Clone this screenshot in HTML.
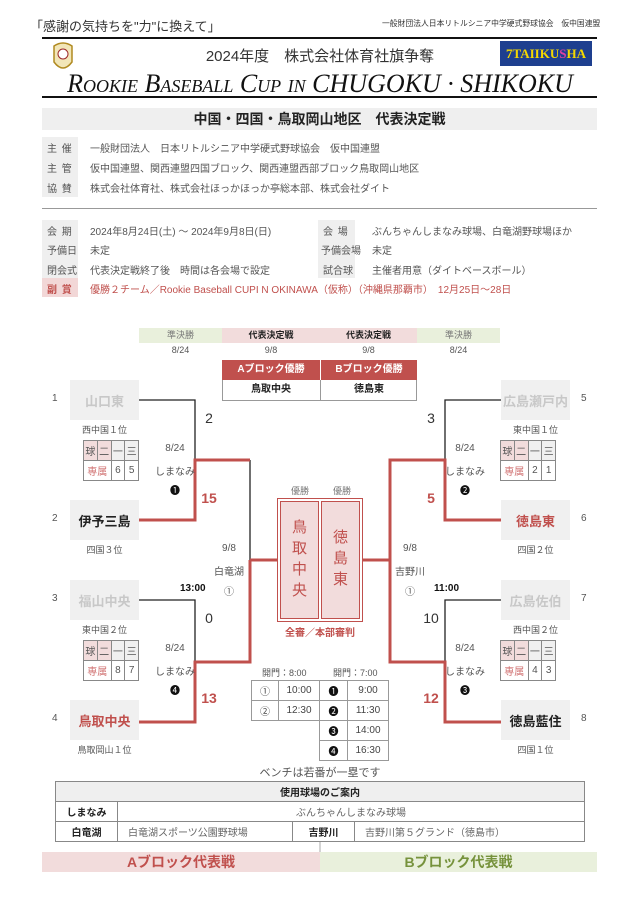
<!DOCTYPE html>
<html><head><meta charset="utf-8">
<style>
*{margin:0;padding:0;box-sizing:border-box}
body{width:640px;height:906px;background:#fff;position:relative;overflow:hidden;font-family:"Liberation Sans","Noto Sans CJK JP",sans-serif;color:#444}
.a{position:absolute;white-space:nowrap}
.c{text-align:center}
.box{position:absolute;background:#f0f0f0;display:flex;align-items:center;justify-content:center;font-size:13px;font-weight:bold}
.lab{position:absolute;font-size:10px;color:#555;letter-spacing:1px}
.t{font-size:10px;color:#555}
table{border-collapse:collapse;position:absolute}
.st td{border:1px solid #888;font-size:10px;text-align:center;height:20px;color:#555}
.tt td{border:1px solid #999;font-size:10px;text-align:center;height:20px;color:#444}
.vt td{border:1px solid #888;font-size:10px;height:20px;color:#666}
</style></head><body>
<div class="a" style="left:30px;top:16px;font-size:13px;color:#333">「感謝の気持ちを"力"に換えて」</div>
<div class="a" style="left:382px;top:18px;font-size:7.8px;color:#333">一般財団法人日本リトルシニア中学硬式野球協会　仮中国連盟</div>
<div class="a" style="left:42px;top:37px;width:555px;height:2px;background:#111"></div>
<svg class="a" style="left:52px;top:42px" width="22" height="32"><path d="M2 4 Q11 -2 20 4 L20 20 Q11 32 2 20Z" fill="#f2e6b8" stroke="#b08a20" stroke-width="1.5"/><circle cx="11" cy="12" r="5" fill="#fff" stroke="#9c2a2a"/></svg>
<div class="a c" style="left:0;width:640px;top:45px;font-size:15px;color:#333">2024年度　株式会社体育社旗争奪</div>
<div class="a" style="left:500px;top:41px;width:92px;height:25px;background:#1e3f8f;color:#f5d800;font-weight:bold;font-size:13px;line-height:25px;text-align:center;font-family:'Liberation Serif',serif">7TAIIKU<span style="color:#e040a0">S</span>HA</div>
<div class="a c" style="left:0;width:640px;top:69px;font-family:'Liberation Serif',serif;font-style:italic;font-size:26px;color:#111;font-variant:small-caps">Rookie Baseball Cup in CHUGOKU · SHIKOKU</div>
<div class="a" style="left:42px;top:96px;width:555px;height:2px;background:#111"></div>
<div class="a c" style="left:42px;top:108px;width:555px;height:22px;background:#efefef;font-size:14px;font-weight:bold;line-height:22px;color:#222">中国・四国・鳥取岡山地区　代表決定戦</div>

<div class="a" style="left:42px;top:137px;width:36px;height:60px;background:#efefef"></div>
<div class="lab" style="left:47px;top:140px">主 催</div><div class="a t" style="left:90px;top:140px">一般財団法人　日本リトルシニア中学硬式野球協会　仮中国連盟</div>
<div class="lab" style="left:47px;top:160px">主 管</div><div class="a t" style="left:90px;top:160px">仮中国連盟、関西連盟四国ブロック、関西連盟西部ブロック鳥取岡山地区</div>
<div class="lab" style="left:47px;top:180px">協 賛</div><div class="a t" style="left:90px;top:180px">株式会社体育社、株式会社ほっかほっか亭総本部、株式会社ダイト</div>
<div class="a" style="left:42px;top:208px;width:555px;height:1px;background:#999"></div>

<div class="a" style="left:42px;top:220px;width:36px;height:58px;background:#efefef"></div>
<div class="a" style="left:42px;top:278px;width:36px;height:19px;background:#f2d7d7"></div>
<div class="a" style="left:318px;top:220px;width:37px;height:58px;background:#efefef"></div>
<div class="lab" style="left:47px;top:223px">会 期</div><div class="a t" style="left:90px;top:223px">2024年8月24日(土) ～ 2024年9月8日(日)</div>
<div class="lab" style="left:323px;top:223px">会 場</div><div class="a t" style="left:372px;top:223px">ぶんちゃんしまなみ球場、白竜湖野球場ほか</div>
<div class="lab" style="left:47px;top:242px;letter-spacing:0">予備日</div><div class="a t" style="left:90px;top:242px">未定</div>
<div class="lab" style="left:321px;top:242px;letter-spacing:0">予備会場</div><div class="a t" style="left:372px;top:242px">未定</div>
<div class="lab" style="left:47px;top:262px;letter-spacing:0">閉会式</div><div class="a t" style="left:90px;top:262px">代表決定戦終了後　時間は各会場で設定</div>
<div class="lab" style="left:323px;top:262px;letter-spacing:0">試合球</div><div class="a t" style="left:372px;top:262px">主催者用意（ダイトベースボール）</div>
<div class="lab" style="left:47px;top:281px;color:#c0504d;font-weight:bold">副 賞</div><div class="a t" style="left:90px;top:281px;color:#c0504d">優勝２チーム／Rookie Baseball CUPI N OKINAWA（仮称）（沖縄県那覇市）　12月25日～28日</div>

<div class="a c" style="left:139px;top:328px;width:83px;height:15px;background:#e9f0dc;font-size:9px;line-height:15px;color:#777">準決勝</div>
<div class="a c" style="left:222px;top:328px;width:98px;height:15px;background:#f2dcdc;font-size:9px;line-height:15px;font-weight:bold;color:#222">代表決定戦</div>
<div class="a c" style="left:320px;top:328px;width:97px;height:15px;background:#f2dcdc;font-size:9px;line-height:15px;font-weight:bold;color:#222">代表決定戦</div>
<div class="a c" style="left:417px;top:328px;width:83px;height:15px;background:#e9f0dc;font-size:9px;line-height:15px;color:#777">準決勝</div>
<div class="a c t" style="left:139px;top:345px;width:83px;font-size:9px">8/24</div>
<div class="a c t" style="left:222px;top:345px;width:98px;font-size:9px">9/8</div>
<div class="a c t" style="left:320px;top:345px;width:97px;font-size:9px">9/8</div>
<div class="a c t" style="left:417px;top:345px;width:83px;font-size:9px">8/24</div>
<div class="a" style="left:222px;top:360px;width:195px;height:41px;border:1px solid #999"></div>
<div class="a c" style="left:222px;top:360px;width:98px;height:20px;background:#c0504d;color:#fff;font-weight:bold;font-size:10px;line-height:20px">Aブロック優勝</div>
<div class="a c" style="left:320px;top:360px;width:97px;height:20px;background:#c0504d;color:#fff;font-weight:bold;font-size:10px;line-height:20px;border-left:1px solid #fff">Bブロック優勝</div>
<div class="a c" style="left:222px;top:380px;width:98px;height:20px;font-weight:bold;font-size:10px;line-height:20px;color:#222">鳥取中央</div>
<div class="a c" style="left:320px;top:380px;width:97px;height:20px;font-weight:bold;font-size:10px;line-height:20px;color:#222;border-left:1px solid #999">徳島東</div>

<svg class="a" style="left:0;top:0" width="640" height="906">
<g fill="none" stroke="#222" stroke-width="1.3">
<path d="M139 400H195V460"/><path d="M250 460V560"/><path d="M139 600H195V662"/>
<path d="M501 400H445V460"/><path d="M390 460V560"/><path d="M501 600H445V662"/>
</g>
<g fill="none" stroke="#c0504d" stroke-width="3">
<path d="M139 520H195V460H250"/><path d="M250 560H277"/><path d="M250 560V662H195V722H139"/>
<path d="M501 520H445V460H390V560H363"/><path d="M501 722H445V662H390V560"/>
</g>
<line x1="320" y1="841" x2="320" y2="852" stroke="#aaa"/>
</svg>

<div class="a c t" style="left:290px;top:484px;width:20px;font-size:9px;color:#777">優勝</div>
<div class="a c t" style="left:332px;top:484px;width:20px;font-size:9px;color:#777">優勝</div>
<div class="a" style="left:277px;top:498px;width:86px;height:124px;border:1px solid #c0504d;background:#fff"></div>
<div class="a c" style="left:280px;top:501px;width:39px;height:118px;border:1px solid #c0504d;background:#f2dcdc;color:#c0504d;font-size:15px;line-height:21px;padding-top:15px">鳥<br>取<br>中<br>央</div>
<div class="a c" style="left:321px;top:501px;width:39px;height:118px;border:1px solid #c0504d;background:#f2dcdc;color:#c0504d;font-size:15px;line-height:21px;padding-top:25px">徳<br>島<br>東</div>
<div class="a c" style="left:270px;top:624px;width:100px;font-size:10px;color:#c0504d;font-weight:bold">全審／本部審判</div>

<div class="box" style="left:70px;top:380px;width:69px;height:40px;color:#c8c8c8">山口東</div>
<div class="box" style="left:70px;top:500px;width:69px;height:40px;color:#222">伊予三島</div>
<div class="box" style="left:70px;top:580px;width:69px;height:40px;color:#c8c8c8">福山中央</div>
<div class="box" style="left:70px;top:700px;width:69px;height:40px;color:#c0504d">鳥取中央</div>
<div class="box" style="left:501px;top:380px;width:69px;height:40px;color:#c8c8c8">広島瀬戸内</div>
<div class="box" style="left:501px;top:500px;width:69px;height:40px;color:#c0504d">徳島東</div>
<div class="box" style="left:501px;top:580px;width:69px;height:40px;color:#c8c8c8">広島佐伯</div>
<div class="box" style="left:501px;top:700px;width:69px;height:40px;color:#222">徳島藍住</div>
<div class="a t" style="left:52px;top:393px">1</div><div class="a t" style="left:52px;top:513px">2</div><div class="a t" style="left:52px;top:593px">3</div><div class="a t" style="left:52px;top:713px">4</div>
<div class="a t" style="left:581px;top:393px">5</div><div class="a t" style="left:581px;top:513px">6</div><div class="a t" style="left:581px;top:593px">7</div><div class="a t" style="left:581px;top:713px">8</div>
<div class="a c t" style="left:70px;top:423px;width:69px;font-size:9px">西中国１位</div>
<div class="a c t" style="left:70px;top:543px;width:69px;font-size:9px">四国３位</div>
<div class="a c t" style="left:70px;top:623px;width:69px;font-size:9px">東中国２位</div>
<div class="a c t" style="left:70px;top:743px;width:69px;font-size:9px">鳥取岡山１位</div>
<div class="a c t" style="left:501px;top:423px;width:69px;font-size:9px">東中国１位</div>
<div class="a c t" style="left:501px;top:543px;width:69px;font-size:9px">四国２位</div>
<div class="a c t" style="left:501px;top:623px;width:69px;font-size:9px">西中国２位</div>
<div class="a c t" style="left:501px;top:743px;width:69px;font-size:9px">四国１位</div>

<table class="st" style="left:83px;top:440px;width:56px"><tr><td style="background:#f2dcdc">球</td><td style="background:#f2dcdc">二</td><td style="background:#f0f0f0">一</td><td style="background:#f0f0f0">三</td></tr><tr><td colspan="2" style="color:#d07070">専属</td><td>6</td><td>5</td></tr></table>
<table class="st" style="left:83px;top:640px;width:56px"><tr><td style="background:#f2dcdc">球</td><td style="background:#f2dcdc">二</td><td style="background:#f0f0f0">一</td><td style="background:#f0f0f0">三</td></tr><tr><td colspan="2" style="color:#d07070">専属</td><td>8</td><td>7</td></tr></table>
<table class="st" style="left:500px;top:440px;width:56px"><tr><td style="background:#f2dcdc">球</td><td style="background:#f2dcdc">二</td><td style="background:#f0f0f0">一</td><td style="background:#f0f0f0">三</td></tr><tr><td colspan="2" style="color:#d07070">専属</td><td>2</td><td>1</td></tr></table>
<table class="st" style="left:500px;top:640px;width:56px"><tr><td style="background:#f2dcdc">球</td><td style="background:#f2dcdc">二</td><td style="background:#f0f0f0">一</td><td style="background:#f0f0f0">三</td></tr><tr><td colspan="2" style="color:#d07070">専属</td><td>4</td><td>3</td></tr></table>

<div class="a c" style="left:195px;top:410px;width:28px;font-size:14px;color:#333">2</div>
<div class="a c" style="left:195px;top:490px;width:28px;font-size:14px;color:#c0504d;font-weight:bold">15</div>
<div class="a c t" style="left:155px;top:443px;width:40px">8/24</div>
<div class="a c t" style="left:155px;top:463px;width:40px">しまなみ</div>
<div class="a c t" style="left:155px;top:482px;width:40px;color:#111">❶</div>
<div class="a c t" style="left:209px;top:543px;width:40px">9/8</div>
<div class="a c t" style="left:209px;top:563px;width:40px">白竜湖</div>
<div class="a c t" style="left:209px;top:583px;width:40px">①</div>
<div class="a" style="left:180px;top:583px;font-size:10px;font-weight:bold;color:#111">13:00</div>
<div class="a c" style="left:195px;top:610px;width:28px;font-size:14px;color:#333">0</div>
<div class="a c t" style="left:155px;top:643px;width:40px">8/24</div>
<div class="a c t" style="left:155px;top:663px;width:40px">しまなみ</div>
<div class="a c t" style="left:155px;top:682px;width:40px;color:#111">❹</div>
<div class="a c" style="left:195px;top:690px;width:28px;font-size:14px;color:#c0504d;font-weight:bold">13</div>
<div class="a c" style="left:417px;top:410px;width:28px;font-size:14px;color:#333">3</div>
<div class="a c" style="left:417px;top:490px;width:28px;font-size:14px;color:#c0504d;font-weight:bold">5</div>
<div class="a c t" style="left:445px;top:443px;width:40px">8/24</div>
<div class="a c t" style="left:445px;top:463px;width:40px">しまなみ</div>
<div class="a c t" style="left:445px;top:482px;width:40px;color:#111">❷</div>
<div class="a c t" style="left:390px;top:543px;width:40px">9/8</div>
<div class="a c t" style="left:390px;top:563px;width:40px">吉野川</div>
<div class="a c t" style="left:390px;top:583px;width:40px">①</div>
<div class="a" style="left:434px;top:583px;font-size:10px;font-weight:bold;color:#111">11:00</div>
<div class="a c" style="left:417px;top:610px;width:28px;font-size:14px;color:#333">10</div>
<div class="a c t" style="left:445px;top:643px;width:40px">8/24</div>
<div class="a c t" style="left:445px;top:663px;width:40px">しまなみ</div>
<div class="a c t" style="left:445px;top:682px;width:40px;color:#111">❸</div>
<div class="a c" style="left:417px;top:690px;width:28px;font-size:14px;color:#c0504d;font-weight:bold">12</div>

<div class="a t" style="left:262px;top:666px;font-size:9px">開門：8:00</div>
<div class="a t" style="left:333px;top:666px;font-size:9px">開門：7:00</div>
<table class="tt" style="left:251px;top:680px;width:138px">
<tr><td style="width:27px">①</td><td style="width:41px">10:00</td><td style="width:28px;color:#111">❶</td><td>9:00</td></tr>
<tr><td>②</td><td>12:30</td><td style="color:#111">❷</td><td>11:30</td></tr>
<tr><td style="border:none"></td><td style="border:none;border-right:1px solid #999"></td><td style="color:#111">❸</td><td>14:00</td></tr>
<tr><td style="border:none"></td><td style="border:none;border-right:1px solid #999"></td><td style="color:#111">❹</td><td>16:30</td></tr>
</table>
<div class="a c" style="left:0;width:640px;top:764px;font-size:11px;color:#555">ベンチは若番が一塁です</div>

<table class="vt" style="left:55px;top:781px;width:530px">
<tr><td colspan="4" style="background:#efefef;text-align:center;font-weight:bold;color:#222">使用球場のご案内</td></tr>
<tr><td style="width:62px;text-align:center;font-weight:bold;color:#222">しまなみ</td><td colspan="3" style="text-align:center">ぶんちゃんしまなみ球場</td></tr>
<tr><td style="text-align:center;font-weight:bold;color:#222">白竜湖</td><td style="width:175px;padding-left:10px">白竜湖スポーツ公園野球場</td><td style="width:62px;text-align:center;font-weight:bold;color:#222">吉野川</td><td style="padding-left:10px">吉野川第５グランド（徳島市）</td></tr>
</table>
<div class="a c" style="left:42px;top:852px;width:278px;height:20px;background:#f2dcdc;color:#c0504d;font-size:14px;font-weight:bold;line-height:20px">Aブロック代表戦</div>
<div class="a c" style="left:320px;top:852px;width:277px;height:20px;background:#e9f0dc;color:#76923c;font-size:14px;font-weight:bold;line-height:20px">Bブロック代表戦</div>
</body></html>
